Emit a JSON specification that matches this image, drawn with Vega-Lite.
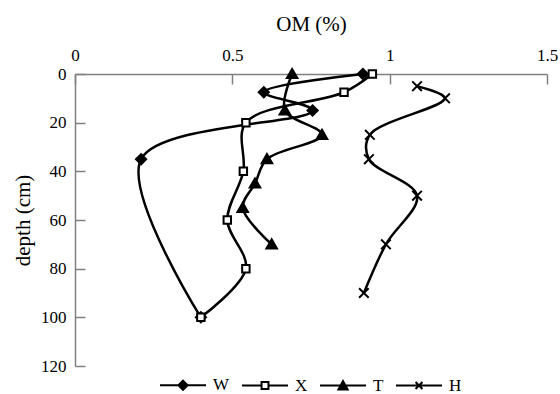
{
  "$schema": "https://vega.github.io/schema/vega-lite/v6.json",
  "autosize": "none",
  "width": 472,
  "height": 292,
  "padding": {"left": 75, "top": 74, "right": 13, "bottom": 28},
  "background": "white",
  "config": {
    "view": {"stroke": null},
    "font": "Liberation Serif",
    "axis": {
      "grid": false,
      "domainColor": "#808080",
      "domainWidth": 1.5,
      "tickColor": "#808080",
      "tickWidth": 1.5,
      "tickSize": -10,
      "labelFont": "Liberation Serif",
      "labelFontSize": 17,
      "labelColor": "black",
      "titleFont": "Liberation Serif",
      "titleFontSize": 21,
      "titleFontWeight": "normal",
      "titleColor": "black"
    },
    "legend": {
      "labelFont": "Liberation Serif",
      "labelFontSize": 17,
      "labelColor": "black",
      "padding": 0
    }
  },
  "data": {
    "values": [
      {"series": "W", "om": 0.915, "depth": 0},
      {"series": "W", "om": 0.6, "depth": 7.5},
      {"series": "W", "om": 0.755, "depth": 15},
      {"series": "W", "om": 0.21, "depth": 35},
      {"series": "W", "om": 0.4, "depth": 100},
      {"series": "X", "om": 0.945, "depth": 0},
      {"series": "X", "om": 0.855, "depth": 7.5},
      {"series": "X", "om": 0.543, "depth": 20},
      {"series": "X", "om": 0.535, "depth": 40},
      {"series": "X", "om": 0.484, "depth": 60},
      {"series": "X", "om": 0.543, "depth": 80},
      {"series": "X", "om": 0.4, "depth": 100},
      {"series": "T", "om": 0.69, "depth": 0},
      {"series": "T", "om": 0.667, "depth": 15},
      {"series": "T", "om": 0.785, "depth": 25},
      {"series": "T", "om": 0.61, "depth": 35},
      {"series": "T", "om": 0.572, "depth": 45},
      {"series": "T", "om": 0.533, "depth": 55},
      {"series": "T", "om": 0.625, "depth": 70},
      {"series": "H", "om": 1.087, "depth": 5},
      {"series": "H", "om": 1.176, "depth": 10},
      {"series": "H", "om": 0.937, "depth": 25},
      {"series": "H", "om": 0.934, "depth": 35},
      {"series": "H", "om": 1.087, "depth": 50},
      {"series": "H", "om": 0.988, "depth": 70},
      {"series": "H", "om": 0.918, "depth": 90}
    ]
  },
  "encoding": {
    "x": {
      "field": "om",
      "type": "quantitative",
      "scale": {"domain": [0, 1.5], "nice": false, "zero": false},
      "axis": {
        "orient": "top",
        "title": "OM (%)",
        "values": [0, 0.5, 1, 1.5],
        "format": "~g",
        "labelPadding": 20,
        "titlePadding": 12,
        "labelFlush": false
      }
    },
    "y": {
      "field": "depth",
      "type": "quantitative",
      "scale": {"domain": [0, 120], "reverse": true, "nice": false},
      "axis": {
        "title": "depth (cm)",
        "values": [0, 20, 40, 60, 80, 100, 120],
        "labelPadding": 19,
        "titlePadding": 7,
        "labelFlush": false
      }
    }
  },
  "resolve": {"scale": {"shape": "independent", "fill": "independent"}},
  "layer": [
    {
      "mark": {"type": "line", "interpolate": "catmull-rom", "color": "black", "strokeWidth": 2.5},
      "encoding": {
        "detail": {"field": "series"},
        "order": {"field": "depth", "type": "quantitative"}
      }
    },
    {
      "mark": {"type": "point", "filled": true, "opacity": 1, "stroke": "black", "strokeWidth": 2, "size": 144},
      "encoding": {
        "shape": {
          "field": "series",
          "type": "nominal",
          "scale": {
            "domain": ["W", "X", "T", "H"],
            "range": [
              "M-0.85,0L0,-0.85L0.85,0L0,0.85Z",
              "M-0.62,-0.62H0.62V0.62H-0.62Z",
              "M0,-0.85L0.88,0.68H-0.88Z",
              "M-0.8,-0.8L0.8,0.8M-0.8,0.8L0.8,-0.8"
            ]
          },
          "legend": null
        },
        "fill": {
          "field": "series",
          "type": "nominal",
          "scale": {
            "domain": ["W", "X", "T", "H"],
            "range": ["black", "white", "black", "transparent"]
          },
          "legend": null
        }
      }
    },
    {
      "transform": [{"filter": "datum.depth < 0"}],
      "mark": {"type": "point", "filled": true, "opacity": 1, "stroke": "black", "strokeWidth": 2},
      "encoding": {
        "shape": {
          "field": "series",
          "type": "nominal",
          "scale": {
            "domain": ["W", "X", "T", "H"],
            "range": [
              "M-1,0H1M-0.2,0L0,-0.2L0.2,0L0,0.2Z",
              "M-1,0H-0.15M0.15,0H1M-0.15,-0.15H0.15V0.15H-0.15Z",
              "M-1,0H1M-0.2,0.17L0,-0.19L0.2,0.17Z",
              "M-1,0H1M-0.15,-0.15L0.15,0.15M-0.15,0.15L0.15,-0.15"
            ]
          },
          "legend": {
            "title": null,
            "orient": "none",
            "direction": "horizontal",
            "legendX": 84,
            "legendY": 287,
            "symbolSize": 2116,
            "symbolStrokeWidth": 2,
            "symbolStrokeColor": "black",
            "symbolOpacity": 1,
            "labelOffset": 6,
            "labelFontSize": 17,
            "labelFont": "Liberation Serif",
            "columnPadding": 8,
            "encode": {"symbols": {"update": {"stroke": {"value": "black"}, "strokeWidth": {"value": 2}, "opacity": {"value": 1}}}}
          }
        },
        "fill": {
          "field": "series",
          "type": "nominal",
          "scale": {
            "domain": ["W", "X", "T", "H"],
            "range": ["black", "white", "black", "transparent"]
          },
          "legend": {
            "title": null,
            "orient": "none",
            "direction": "horizontal",
            "legendX": 84,
            "legendY": 287,
            "symbolSize": 2116,
            "symbolStrokeWidth": 2,
            "symbolStrokeColor": "black",
            "symbolOpacity": 1,
            "labelOffset": 6,
            "labelFontSize": 17,
            "labelFont": "Liberation Serif",
            "columnPadding": 8,
            "encode": {"symbols": {"update": {"stroke": {"value": "black"}, "strokeWidth": {"value": 2}, "opacity": {"value": 1}}}}
          }
        }
      }
    }
  ]
}
